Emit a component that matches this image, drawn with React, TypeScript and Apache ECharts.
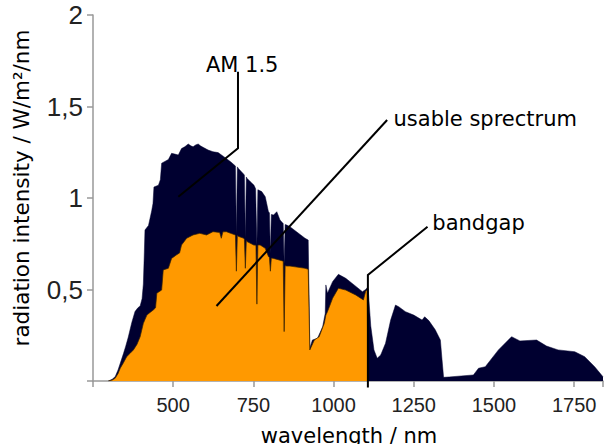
import React, { useEffect, useRef } from "react";
import * as echarts from "echarts";

// AM 1.5 solar spectrum (wavelength nm, radiation intensity W/m²/nm)
const am15Wavelength = [
  298, 310, 319, 328, 335, 345, 352, 360, 371, 381, 390, 397, 403, 407, 410, 412, 423, 433, 437, 440,
  454, 460, 464, 474, 485, 495, 505, 516, 526, 536, 547, 555, 562, 570, 578, 585, 593, 609, 624, 640,
  658, 679, 694, 697, 700, 704, 720, 722, 725, 728, 730, 740, 752, 757, 761, 764, 766, 776, 787, 797,
  800, 803, 806, 813, 823, 833, 843, 846, 849, 854, 864, 911, 921, 926, 934, 950, 966, 974, 976, 981,
  997, 1015, 1038, 1064, 1090, 1100, 1105, 1108, 1116, 1126, 1136, 1147, 1162, 1178, 1193, 1203, 1224, 1250, 1276, 1284,
  1297, 1317, 1333, 1338, 1343, 1360, 1436, 1452, 1473, 1514, 1555, 1581, 1633, 1664, 1700, 1752, 1783, 1814, 1840,
];
const am15Radiation = [
  0, 0.01, 0.023, 0.06, 0.097, 0.15, 0.19, 0.24, 0.32, 0.38, 0.4, 0.41, 0.45, 0.53, 0.7, 0.825, 0.85, 0.93, 0.97, 1.06,
  1.07, 1.1, 1.19, 1.2, 1.21, 1.244, 1.24, 1.235, 1.27, 1.28, 1.295, 1.285, 1.28, 1.29, 1.295, 1.285, 1.277, 1.262, 1.253, 1.248,
  1.226, 1.198, 1.175, 0.8, 1.17, 1.16, 1.13, 1.125, 0.78, 1.115, 1.108, 1.09, 1.07, 1.05, 0.74, 1.045, 1.044, 1.035, 1.007, 0.925,
  0.92, 0.7, 0.91, 0.907, 0.925, 0.88, 0.86, 0.64, 0.855, 0.852, 0.843, 0.78, 0.77, 0.18, 0.224, 0.233, 0.297, 0.37, 0.525, 0.48,
  0.543, 0.583, 0.561, 0.525, 0.488, 0.5, 0.51, 0.5, 0.3, 0.17, 0.124, 0.142, 0.206, 0.333, 0.415, 0.406, 0.379, 0.36, 0.333, 0.351,
  0.33, 0.28, 0.224, 0.12, 0.02, 0.022, 0.033, 0.07, 0.078, 0.17, 0.242, 0.219, 0.224, 0.191, 0.17, 0.16, 0.133, 0.078, 0.023,
];

// Usable spectrum (up to the silicon bandgap)
const usableWavelength = [
  298, 310, 319, 328, 335, 345, 355, 365, 376, 387, 397, 407, 418, 428, 438, 445, 449, 464, 469, 485,
  495, 511, 520, 526, 542, 562, 583, 604, 624, 645, 650, 655, 666, 679, 694, 697, 700, 704, 720, 722,
  725, 728, 730, 751, 758, 761, 764, 771, 787, 797, 800, 803, 806, 813, 833, 843, 846, 849, 854, 864,
  911, 921, 926, 940, 955, 971, 976, 981, 997, 1015, 1038, 1069, 1093, 1100, 1105, 1107, 1107,
];
const usableRadiation = [
  0, 0.005, 0.015, 0.04, 0.07, 0.1, 0.133, 0.15, 0.17, 0.2, 0.242, 0.315, 0.36, 0.375, 0.388, 0.4, 0.48, 0.497, 0.607, 0.616,
  0.67, 0.69, 0.7, 0.743, 0.78, 0.798, 0.807, 0.798, 0.816, 0.812, 0.78, 0.815, 0.816, 0.807, 0.798, 0.6, 0.795, 0.79, 0.78, 0.775,
  0.616, 0.768, 0.762, 0.743, 0.742, 0.42, 0.743, 0.743, 0.725, 0.68, 0.675, 0.6, 0.672, 0.67, 0.66, 0.655, 0.27, 0.63, 0.628, 0.628,
  0.616, 0.61, 0.17, 0.224, 0.242, 0.315, 0.36, 0.379, 0.452, 0.507, 0.497, 0.47, 0.443, 0.49, 0.5, 0.5, 0,
];

const xTickLabels = [500, 750, 1000, 1250, 1500, 1750];
const yTickValues = [0.5, 1, 1.5, 2];
const yTickLabels = ["0,5", "1", "1,5", "2"];

const bandgapWavelength = 1107;

// annotation anchors in data coordinates [wavelength, intensity]
const amLabelAnchor = [602, 1.725];
const amLeader = [[702, 1.69], [702, 1.272], [516, 1.007]];
const usableLabelAnchor = [1187, 1.43];
const usableLeader = [[1167, 1.426], [635, 0.41]];
const bandgapLabelAnchor = [1308, 0.865];
const bandgapLeader = [[1293, 0.843], [bandgapWavelength, 0.579], [bandgapWavelength, -0.035]];

const NAVY = "#000030";
const ORANGE = "#ff9900";

export default function App() {
  const ref = useRef<HTMLDivElement>(null);
  useEffect(() => {
    if (!ref.current) return;
    const chart = echarts.init(ref.current, null, { renderer: "svg" });
    const am15 = am15Wavelength.map((w, i) => [w, am15Radiation[i]]);
    const usable = usableWavelength.map((w, i) => [w, usableRadiation[i]]);
    const axisLineStyle = { color: "#999", width: 1.5 };
    chart.setOption({
      animation: false,
      grid: { left: 93, right: 0, top: 15, bottom: 63 },
      xAxis: {
        type: "value",
        min: 250,
        max: 1840,
        interval: 250,
        axisLine: { show: true, lineStyle: axisLineStyle },
        axisTick: { show: true, length: 6, lineStyle: axisLineStyle },
        splitLine: { show: false },
        axisLabel: {
          fontFamily: "Liberation Sans",
          fontSize: 20,
          color: "#222",
          margin: 14,
          formatter: (v: number) => (xTickLabels.includes(v) ? String(v) : ""),
        },
      },
      yAxis: {
        type: "value",
        min: 0,
        max: 2,
        interval: 0.5,
        axisLine: { show: true, lineStyle: axisLineStyle },
        axisTick: { show: true, length: 6, lineStyle: axisLineStyle },
        splitLine: { show: false },
        axisLabel: {
          fontFamily: "Liberation Sans",
          fontSize: 26,
          color: "#222",
          margin: 10,
          formatter: (v: number) => {
            const i = yTickValues.indexOf(v);
            return i >= 0 ? yTickLabels[i] : "";
          },
        },
      },
      series: [
        {
          name: "AM 1.5",
          type: "line",
          data: am15,
          symbol: "none",
          lineStyle: { color: NAVY, width: 0.5 },
          areaStyle: { color: NAVY, opacity: 1 },
          z: 2,
        },
        {
          name: "usable sprectrum",
          type: "line",
          data: usable,
          symbol: "none",
          lineStyle: { color: "#3a2400", width: 0.7 },
          areaStyle: { color: ORANGE, opacity: 1 },
          z: 3,
        },
      ],
    });

    const px = (p: number[]) => chart.convertToPixel({ gridIndex: 0 }, p) as number[];
    const textStyle = (text: string, size = 21) => ({
      text,
      fontFamily: "DejaVu Sans",
      fontSize: size,
      fill: "#000",
      align: "left",
      verticalAlign: "middle",
    });
    const label = (anchor: number[], text: string) => {
      const [x, y] = px(anchor);
      return { type: "text", x, y, z: 100, style: textStyle(text) };
    };
    const leader = (pts: number[][]) => ({
      type: "polyline",
      z: 100,
      shape: { points: pts.map(px) },
      style: { stroke: "#000", lineWidth: 2, fill: null },
    });
    chart.setOption({
      graphic: [
        leader(amLeader),
        leader(usableLeader),
        leader(bandgapLeader),
        label(amLabelAnchor, "AM 1.5"),
        label(usableLabelAnchor, "usable sprectrum"),
        label(bandgapLabelAnchor, "bandgap"),
        {
          type: "text",
          x: 349,
          y: 435.5,
          z: 100,
          style: { ...textStyle("wavelength / nm"), align: "center" },
        },
        {
          type: "text",
          x: 21,
          y: 188,
          rotation: Math.PI / 2,
          z: 100,
          style: { ...textStyle("radiation intensity / W/m²/nm", 21.5), align: "center" },
        },
      ],
    });
    return () => chart.dispose();
  }, []);
  return (
    <div
      ref={ref}
      style={{ position: "absolute", left: 0, top: 0, width: 606, height: 444 }}
    />
  );
}
